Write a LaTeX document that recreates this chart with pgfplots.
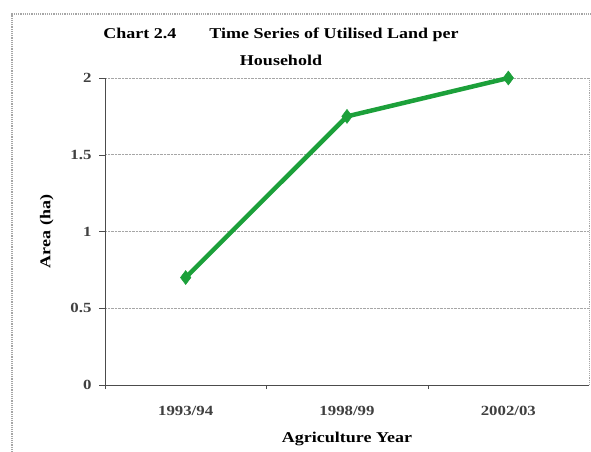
\documentclass[border=0pt]{standalone}
\usepackage{pgfplots}
\pgfplotsset{compat=1.18}
\usepackage{fontspec}
\setmainfont{Liberation Serif}[FakeStretch=1.2]
\definecolor{lgreen}{RGB}{28,160,58}
\begin{document}
\begin{tikzpicture}[x=1pt,y=1pt]
\useasboundingbox (0,0) rectangle (591,451);
\clip (0,0) rectangle (591,451);
\draw[gray!70, densely dotted, line width=1.2pt] (12,-10) rectangle (610,437);
\node[font=\bfseries\fontsize{15}{27}\selectfont, align=center] at (281,404) {Chart 2.4\hspace{2.2em}Time Series of Utilised Land per\\Household};
\begin{axis}[
  at={(105pt,66pt)}, anchor=south west,
  width=484pt, height=307pt, scale only axis,
  xmin=-0.5, xmax=2.5, ymin=0, ymax=2,
  xtick={0,1,2}, xticklabels={1993/94,1998/99,2002/03},
  major x tick style={draw=none},
  minor xtick={-0.5,0.5,1.5},
  minor tick length=4pt,
  x tick style={draw=gray!60!black},
  ytick={0,0.5,1,1.5,2},
  yticklabels={0,0.5,1,1.5,2},
  y tick style={draw=gray!60!black},
  major tick length=6pt,
  tick align=outside,
  axis x line*=bottom, axis y line*=left,
  axis line style={-, draw=gray!60!black, line width=0.8pt},
  ymajorgrids, grid style={gray!70, densely dotted, line width=0.9pt},
  ticklabel style={font=\bfseries\fontsize{14}{16}\selectfont, text=black!75},
  yticklabel style={xshift=-4pt},
  xticklabel style={yshift=-12pt},
  xlabel={Agriculture Year}, ylabel={Area (ha)},
  label style={font=\bfseries\fontsize{15}{17}\selectfont},
  xlabel style={yshift=-9pt},
  ylabel style={yshift=10pt},
  clip=false,
]
\draw[gray!70, densely dotted, line width=0.9pt] (rel axis cs:1,0) -- (rel axis cs:1,1);
\addplot[lgreen, line width=4.5pt, mark=diamond*, mark size=7pt, mark options={line width=0.5pt}] coordinates {(0,0.7) (1,1.75) (2,2.0)};
\end{axis}
\end{tikzpicture}
\end{document}
